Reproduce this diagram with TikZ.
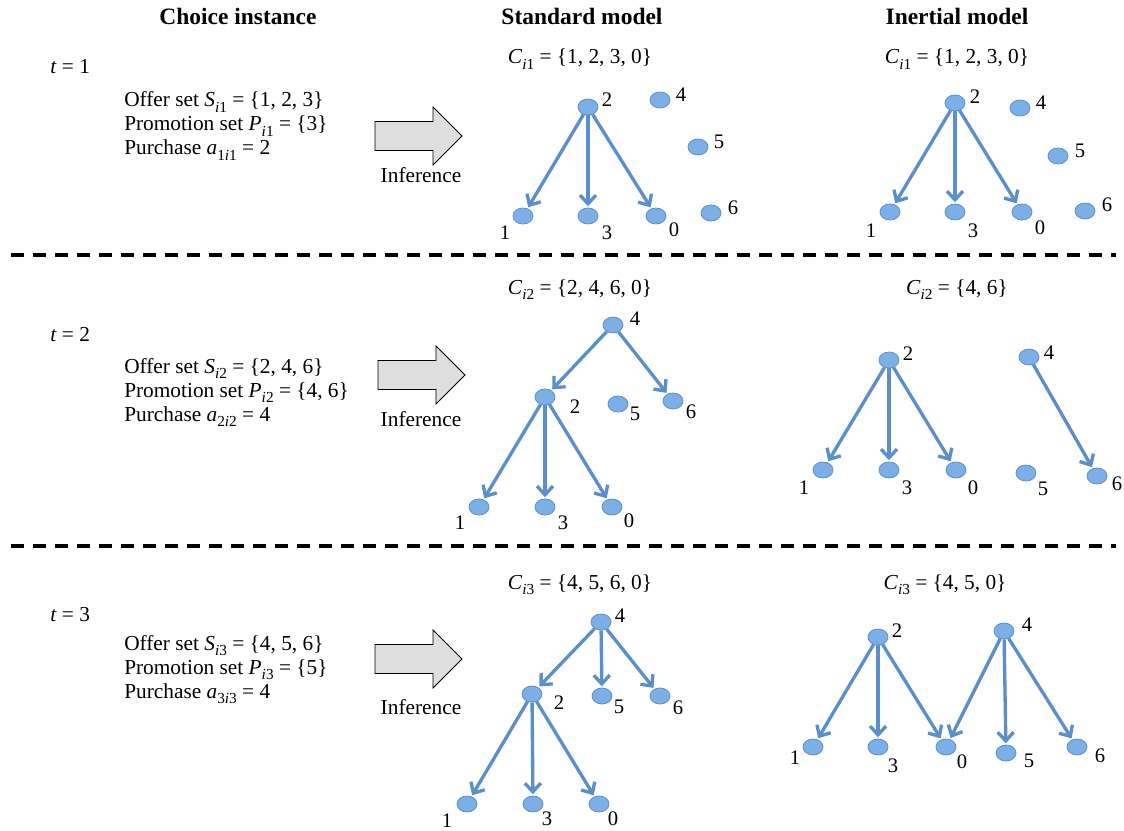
\documentclass[tikz,border=0pt]{standalone}
\usepackage{fontspec}
\setmainfont{Liberation Serif}
\usetikzlibrary{arrows.meta,shapes.geometric}
\definecolor{nodefill}{HTML}{7BAFE6}
\definecolor{nodedraw}{HTML}{5A8FCC}
\definecolor{edgecol}{HTML}{5B8FCB}
\definecolor{arrgray}{HTML}{DEDEDE}
\newcommand{\mi}[1]{\textit{#1}}
\newcommand{\ms}[1]{\raisebox{-0.28em}{\fontsize{11.5}{12}\selectfont #1}}
\begin{document}
\begin{tikzpicture}[x=0.75pt,y=-0.75pt,
  dot/.style={ellipse, fill=nodefill, draw=nodedraw, line width=0.6pt, minimum width=15pt, minimum height=12pt, inner sep=0pt},
  lbl/.style={font=\fontsize{15.5}{17}\selectfont, inner sep=0pt},
  txt/.style={font=\fontsize{16}{18}\selectfont, inner sep=0pt, anchor=base west},
  ctr/.style={font=\fontsize{16}{18}\selectfont, inner sep=0pt, anchor=base},
  hdr/.style={font=\fontsize{17.6}{20}\selectfont\bfseries, inner sep=0pt, anchor=base},
  edge/.style={draw=edgecol, line width=2.5pt, shorten >=1pt, -{Straight Barb[length=6.5pt,width=12pt]}},
  sep/.style={line width=2.6pt, dash pattern=on 9.75pt off 6.75pt},
  bigarr/.pic={\draw[fill=arrgray, line width=0.6pt] (0,-14.5) -- (58,-14.5) -- (58,-29) -- (87,0) -- (58,29) -- (58,14.5) -- (0,14.5) -- cycle;}
]
\useasboundingbox (0,0) rectangle (1124,831);

% headers
\node[hdr] (h1) at (238,25) {Choice instance};
\node[hdr] (h2) at (582,25) {Standard model};
\node[hdr] (h3) at (957,25) {Inertial model};

% separators
\coordinate (d1a) at (11,255); \coordinate (d1b) at (1116,255);
\coordinate (d2a) at (11,546); \coordinate (d2b) at (1116,546);
\draw[sep] (d1a) -- (d1b);
\draw[sep] (d2a) -- (d2b);

% ---------- row 1 ----------
\node[txt] (t1) at (50,74) {\mi{t} = 1};
\node[txt] (o1) at (124,107) {Offer set \mi{S}\ms{\mi{i}1} = \{1, 2, 3\}};
\node[txt] (p1) at (124,131) {Promotion set \mi{P}\ms{\mi{i}1} = \{3\}};
\node[txt] (a1) at (124,155) {Purchase \mi{a}\ms{1\mi{i}1} = 2};
\pic at (375,136) {bigarr};
\node[ctr] (inf1) at (421,183) {Inference};

\node[ctr] (c1s) at (580,64) {\mi{C}\ms{\mi{i}1} = \{1, 2, 3, 0\}};
\node[dot] (a2) at (588,107) {}; \node[lbl] at (607,100) {2};
\node[dot] (a4) at (660,100) {}; \node[lbl] at (681,95) {4};
\node[dot] (a5) at (698,147) {}; \node[lbl] at (719,142) {5};
\node[dot] (a6) at (711,213) {}; \node[lbl] at (733,208) {6};
\node[dot] (a1n) at (523,216) {}; \node[lbl] at (505,233) {1};
\node[dot] (a3) at (588,216) {}; \node[lbl] at (607,233) {3};
\node[dot] (a0) at (656,216) {}; \node[lbl] at (674,230) {0};
\draw[edge] (a2) -- (a1n);
\draw[edge] (a2) -- (a3);
\draw[edge] (a2) -- (a0);

\node[ctr] (c1i) at (957,64) {\mi{C}\ms{\mi{i}1} = \{1, 2, 3, 0\}};
\node[dot] (b2) at (955,103) {}; \node[lbl] at (975,97) {2};
\node[dot] (b4) at (1020,108) {}; \node[lbl] at (1041,103) {4};
\node[dot] (b5) at (1058,156) {}; \node[lbl] at (1080,151) {5};
\node[dot] (b6) at (1085,211) {}; \node[lbl] at (1107,205) {6};
\node[dot] (b1) at (890,212) {}; \node[lbl] at (871,231) {1};
\node[dot] (b3) at (955,212) {}; \node[lbl] at (973,231) {3};
\node[dot] (b0) at (1022,212) {}; \node[lbl] at (1040,228) {0};
\draw[edge] (b2) -- (b1);
\draw[edge] (b2) -- (b3);
\draw[edge] (b2) -- (b0);

% ---------- row 2 ----------
\node[txt] (t2) at (50,341) {\mi{t} = 2};
\node[txt] (o2) at (124,373) {Offer set \mi{S}\ms{\mi{i}2} = \{2, 4, 6\}};
\node[txt] (p2) at (124,397) {Promotion set \mi{P}\ms{\mi{i}2} = \{4, 6\}};
\node[txt] (a2t) at (124,421) {Purchase \mi{a}\ms{2\mi{i}2} = 4};
\pic at (378,375) {bigarr};
\node[ctr] (inf2) at (421,426) {Inference};

\node[ctr] (c2s) at (580,294) {\mi{C}\ms{\mi{i}2} = \{2, 4, 6, 0\}};
\node[dot] (d4) at (613,325) {}; \node[lbl] at (635,319) {4};
\node[dot] (d2) at (545,397) {}; \node[lbl] at (575,407) {2};
\node[dot] (d5) at (618,404) {}; \node[lbl] at (635,414) {5};
\node[dot] (d6) at (673,401) {}; \node[lbl] at (691,412) {6};
\node[dot] (d1) at (479,507) {}; \node[lbl] at (460,523) {1};
\node[dot] (d3) at (545,507) {}; \node[lbl] at (563,523) {3};
\node[dot] (d0) at (612,507) {}; \node[lbl] at (629,521) {0};
\draw[edge] (d4) -- (d2);
\draw[edge] (d4) -- (d6);
\draw[edge] (d2) -- (d1);
\draw[edge] (d2) -- (d3);
\draw[edge] (d2) -- (d0);

\node[ctr] (c2i) at (957,294) {\mi{C}\ms{\mi{i}2} = \{4, 6\}};
\node[dot] (e2) at (889,360) {}; \node[lbl] at (908,354) {2};
\node[dot] (e4) at (1029,357) {}; \node[lbl] at (1049,353) {4};
\node[dot] (e1) at (823,470) {}; \node[lbl] at (804,488) {1};
\node[dot] (e3) at (889,470) {}; \node[lbl] at (907,488) {3};
\node[dot] (e0) at (956,470) {}; \node[lbl] at (973,488) {0};
\node[dot] (e5) at (1026,473) {}; \node[lbl] at (1043,489) {5};
\node[dot] (e6) at (1097,476) {}; \node[lbl] at (1117,484) {6};
\draw[edge] (e2) -- (e1);
\draw[edge] (e2) -- (e3);
\draw[edge] (e2) -- (e0);
\draw[edge] (e4) -- (e6);

% ---------- row 3 ----------
\node[txt] (t3) at (50,621) {\mi{t} = 3};
\node[txt] (o3) at (124,650) {Offer set \mi{S}\ms{\mi{i}3} = \{4, 5, 6\}};
\node[txt] (p3) at (124,674) {Promotion set \mi{P}\ms{\mi{i}3} = \{5\}};
\node[txt] (a3t) at (124,698) {Purchase \mi{a}\ms{3\mi{i}3} = 4};
\pic at (375,659) {bigarr};
\node[ctr] (inf3) at (421,714) {Inference};

\node[ctr] (c3s) at (580,589) {\mi{C}\ms{\mi{i}3} = \{4, 5, 6, 0\}};
\node[dot] (f4) at (601,622) {}; \node[lbl] at (620,616) {4};
\node[dot] (f2) at (532,694) {}; \node[lbl] at (559,703) {2};
\node[dot] (f5) at (602,696) {}; \node[lbl] at (619,707) {5};
\node[dot] (f6) at (660,696) {}; \node[lbl] at (678,708) {6};
\node[dot] (f1) at (467,804) {}; \node[lbl] at (447,821) {1};
\node[dot] (f3) at (533,804) {}; \node[lbl] at (547,819) {3};
\node[dot] (f0) at (599,804) {}; \node[lbl] at (613,819) {0};
\draw[edge] (f4) -- (f2);
\draw[edge] (f4) -- (f5);
\draw[edge] (f4) -- (f6);
\draw[edge] (f2) -- (f1);
\draw[edge] (f2) -- (f3);
\draw[edge] (f2) -- (f0);

\node[ctr] (c3i) at (945,589) {\mi{C}\ms{\mi{i}3} = \{4, 5, 0\}};
\node[dot] (g2) at (878,637) {}; \node[lbl] at (897,631) {2};
\node[dot] (g4) at (1004,631) {}; \node[lbl] at (1027,625) {4};
\node[dot] (g1) at (813,747) {}; \node[lbl] at (795,758) {1};
\node[dot] (g3) at (878,747) {}; \node[lbl] at (893,766) {3};
\node[dot] (g0) at (946,747) {}; \node[lbl] at (962,762) {0};
\node[dot] (g5) at (1006,753) {}; \node[lbl] at (1029,761) {5};
\node[dot] (g6) at (1077,747) {}; \node[lbl] at (1100,756) {6};
\draw[edge] (g2) -- (g1);
\draw[edge] (g2) -- (g3);
\draw[edge] (g2) -- (g0);
\draw[edge] (g4) -- (g0);
\draw[edge] (g4) -- (g5);
\draw[edge] (g4) -- (g6);
\end{tikzpicture}
\end{document}
